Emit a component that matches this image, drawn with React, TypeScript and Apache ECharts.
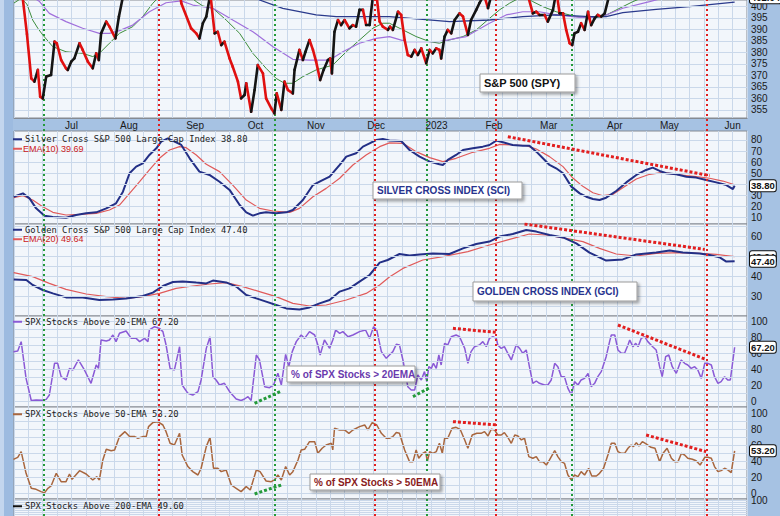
import React, { useEffect, useRef } from 'react';
import * as echarts from 'echarts';

// ---------- categories / ticks (x = trading days counted from 1 Jul 2022) ----------
const monthDays = [0, 20, 43, 64, 85, 106, 127, 147, 166, 189, 208, 230];
const monthNames = ['Jul', 'Aug', 'Sep', 'Oct', 'Nov', 'Dec', '2023', 'Feb', 'Mar', 'Apr', 'May', 'Jun'];
const greenEvents = [-9.7, 70.6, 123.5, 174.0];
const redEvents = [30.3, 105.4, 147.5, 220.9];

const spyTicks = [355, 360, 365, 370, 375, 380, 385, 390, 395, 400];
const sciTicks = [10, 20, 30, 50, 60, 70, 80];
const gciTicks = [30, 40, 60];
const pctTicks = [0, 20, 40, 60, 80, 100];
const pct200Ticks = [100];
const spyGridVals = [355, 360, 365, 370, 375, 380, 385, 390, 395, 400];
const sciGridVals = [10, 20, 30, 40, 50, 60, 70, 80];
const gciGridVals = [25, 30, 35, 40, 45, 50, 55, 60, 65];
const pctGridVals = [0, 10, 20, 30, 40, 50, 60, 70, 80, 90, 100];

// ---------- series values [tradingDay, value] ----------
const spyPrice = [
  [-20, 409], [-18, 406], [-17, 404], [-15.5, 388], [-14.0, 368.7], [-12.9, 367.3], [-11.7, 372.4], [-10.9, 360.8],
  [-10.0, 360.0], [-8.8, 369.5], [-7.1, 370.2], [-5.9, 384.7], [-5.1, 384.0], [-3.6, 376.7], [-1.9, 373.1], [-1.3, 372.4],
  [-0.1, 376.0], [1.0, 377.4], [2.8, 384.0], [3.9, 381.1], [5.7, 376.0], [7.4, 373.1], [8.6, 379.6], [9.5, 376.7],
  [10.3, 388.3], [12.1, 393.4], [13.2, 391.2], [15.3, 386.1], [16.5, 395.6], [18.5, 408], [24, 412], [31, 427],
  [36, 412], [37, 413], [38.2, 401.4], [41.6, 390.5], [43.4, 388.3], [44.5, 386.1], [45.7, 392.7], [46.9, 395.6],
  [48.3, 405.5], [49.8, 388.3], [50.9, 389.0], [52.1, 383.2], [53.2, 384.7], [55.0, 377.4], [56.1, 373.8], [57.9, 367.3],
  [59.0, 360.0], [60.2, 361.5], [60.8, 366.6], [62.5, 354.2], [63.7, 363.7], [64.8, 374.5], [66.6, 370.9], [67.7, 360.0],
  [69.5, 355.7], [70.6, 353.5], [71.4, 362.2], [73.0, 355.0], [74.1, 367.3], [75.3, 363.7], [77.0, 362.2], [77.6, 372.4],
  [79.3, 381.1], [80.5, 376.7], [81.4, 380.3], [82.8, 385.4], [84.0, 381.1], [85.1, 376.0], [86.5, 368.0], [87.7, 372.4],
  [89.2, 376.7], [90.0, 377.4], [90.6, 370.9], [91.5, 389.0], [92.7, 394.1], [93.8, 391.9], [95.0, 394.1], [96.7, 390.5],
  [97.9, 391.9], [99.0, 391.2], [100.2, 398.5], [101.4, 398.5], [102.5, 391.9], [103.7, 391.9], [105.0, 406], [106.0, 406],
  [107.2, 393.4], [108.3, 391.2], [110.1, 389.8], [110.8, 391.2], [111.8, 389.8], [113.6, 397.7], [114.7, 396.3], [115.9, 385.4],
  [117.0, 378.9], [118.2, 378.2], [119.4, 381.1], [120.5, 378.9], [121.7, 381.8], [123.4, 375.3], [124.6, 381.1], [125.7, 379.6],
  [126.9, 381.8], [128.0, 381.1], [128.6, 377.4], [129.8, 386.9], [130.9, 389.8], [132.1, 388.3], [133.3, 394.1], [135.0, 397.0],
  [136.2, 395.6], [137.9, 387.6], [139.0, 394.1], [140.8, 398.5], [141.9, 401.4], [143.5, 405], [144.9, 399.3], [146.3, 406],
  [148.0, 416], [151, 411], [155, 410], [158.5, 406], [160.5, 397.0], [161.7, 397.7], [162.8, 396.3], [164.6, 396.3],
  [165.7, 393.4], [167.5, 398.5], [168.3, 404], [169.0, 404], [169.8, 397.0], [171.0, 397.0], [172.1, 389.8], [173.3, 384.0],
  [174.2, 383.2], [175.0, 388.3], [176.2, 389.0], [177.3, 392.7], [178.5, 389.8], [179.7, 397.7], [180.2, 394.8], [180.8, 391.9],
  [182.0, 394.8], [183.1, 396.3], [184.3, 395.6], [185.5, 397.0], [187.5, 407], [200, 412], [215, 415], [230.7, 420],
];
const spyMa20 = [
  [-20, 401.5], [-17.5, 403.5], [-15.5, 401], [-13.5, 394.1], [-11.7, 390.5], [-10.0, 387.6], [-6.5, 382.5], [-1.9, 380.3],
  [3.9, 379.6], [7.4, 378.2], [9.7, 379.6], [13.2, 384.0], [16.7, 388.3], [21.3, 391.2], [24.8, 395.6], [28.3, 401.4],
  [32, 406], [37, 409], [40.5, 405], [43.4, 402.1], [45.7, 400.2], [49.2, 399.2], [53.8, 394.1], [58.5, 388.3],
  [63.1, 379.6], [67.7, 373.1], [71.2, 368.7], [74.1, 366.6], [77.0, 366.6], [80.5, 369.5], [85.1, 372.4], [90.9, 374.5],
  [95.6, 380.3], [100.2, 385.4], [104.8, 390.5], [108.3, 392.7], [110.6, 392.7], [115.3, 389.8], [119.9, 386.9], [124.6, 384.7],
  [128.0, 384.0], [131.5, 385.4], [136.2, 386.9], [140.8, 389.8], [145.4, 394.8], [148.9, 398.5], [152.4, 401.4], [156, 403.8],
  [158.5, 403.6], [160.5, 402.1], [164.0, 399.9], [168.6, 397.7], [173.3, 396.3], [175.6, 395.6], [180.2, 394.8], [184.9, 395.6],
  [187.2, 397.0], [191.8, 399.9], [195.3, 402.1], [202, 405.5], [215, 409], [230.7, 413],
];
const spyMa50 = [
  [-20, 408], [-14, 404.5], [-11.1, 402.1], [-7.7, 397.0], [-1.9, 393.4], [3.9, 390.5], [9.7, 388.3], [13.2, 388.3],
  [16.7, 389.5], [21.3, 391.9], [27.1, 397.7], [32.9, 401.6], [38.2, 402.4], [42.2, 400.6], [49.2, 399.2], [56.1, 394.1],
  [63.1, 389.0], [70.1, 382.5], [77.0, 377.0], [82.8, 376.7], [89.8, 376.7], [94.4, 380.3], [100.2, 384.0], [106.0, 386.1],
  [110.6, 386.9], [116.5, 384.7], [122.2, 384.7], [128.0, 384.7], [133.8, 386.1], [137.3, 386.9], [145.4, 392.7], [151.2, 396.3],
  [157.0, 397.7], [162.8, 397.7], [168.6, 396.3], [174.4, 395.6], [180.2, 394.8], [186.0, 396.3], [191.8, 399.2], [201.1, 402.1],
  [210, 405], [230.7, 410],
];
const spyMa200 = [
  [-20, 432], [40, 416], [65.4, 402.8], [73.5, 399.2], [85.1, 396.3], [92.1, 395.6], [110.6, 395.6], [122.2, 394.4],
  [131.5, 393.4], [145.4, 394.1], [157.0, 395.6], [168.6, 396.3], [180.2, 395.6], [186.0, 395.6], [191.8, 397.3], [203.4, 398.7],
  [215.0, 399.9], [230.7, 401.9],
];

const sci = [
  [-20.1, 28.9], [-16.9, 31.9], [-14.6, 27.4], [-12.3, 18.4], [-9.4, 11.8], [-6.5, 10.6], [-1.9, 10.0], [1.6, 12.4],
  [5.1, 13.9], [8.6, 14.8], [12.1, 18.4], [15.5, 22.9], [17.9, 33.4], [20.2, 50.0], [22.5, 56.0], [24.8, 59.0],
  [27.1, 66.5], [29.5, 72.5], [31.2, 78.5], [33.5, 81.5], [36.4, 77.9], [38.2, 75.5], [41.1, 63.5], [44.5, 51.5],
  [48.0, 48.5], [51.5, 42.4], [55.0, 35.0], [58.5, 21.4], [60.8, 14.8], [63.1, 11.8], [65.4, 13.9], [67.7, 14.8],
  [71.2, 13.9], [74.7, 14.8], [77.0, 16.9], [80.5, 25.9], [84.0, 39.4], [86.3, 42.4], [89.8, 46.9], [93.3, 57.5],
  [95.6, 65.0], [99.0, 68.0], [101.4, 74.0], [103.7, 77.0], [106.0, 80.0], [108.3, 80.9], [110.6, 79.5], [114.7, 79.1],
  [117.6, 71.0], [121.1, 65.0], [124.6, 60.5], [128.0, 58.1], [129.2, 57.5], [130.9, 62.0], [133.8, 66.5], [136.2, 71.0],
  [139.6, 72.5], [143.1, 74.0], [145.4, 75.5], [147.8, 79.4], [150.1, 77.9], [153.5, 75.5], [157.0, 74.9], [159.3, 74.9],
  [161.7, 69.5], [164.0, 63.5], [166.3, 57.5], [168.6, 54.5], [171.0, 50.0], [173.9, 38.0], [176.8, 31.9], [179.1, 28.9],
  [181.4, 26.8], [183.7, 25.9], [186.0, 28.0], [189.5, 34.0], [193.0, 41.8], [196.5, 48.5], [199.9, 53.0], [202.2, 55.1],
  [204.6, 52.1], [206.9, 50.0], [210.4, 49.1], [213.9, 46.9], [217.3, 46.1], [220.8, 44.0], [224.3, 41.8], [227.8, 39.4],
  [230.1, 35.8], [230.7, 38.8],
];
const sciEma10 = [
  [-20.1, 28.0], [-16.9, 29.8], [-13.5, 25.9], [-10.0, 19.9], [-6.5, 14.8], [-1.9, 12.4], [2.8, 13.0], [8.6, 13.9],
  [13.2, 16.9], [16.7, 21.4], [20.2, 31.9], [23.7, 42.4], [27.1, 53.0], [30.6, 63.5], [34.1, 71.0], [37.6, 74.0],
  [39.9, 73.1], [43.4, 66.5], [46.9, 58.1], [51.5, 51.5], [56.1, 39.4], [60.8, 25.9], [65.4, 18.4], [70.1, 16.0],
  [75.9, 14.8], [79.3, 18.4], [84.0, 28.9], [88.6, 36.4], [93.3, 45.5], [97.9, 57.5], [102.5, 66.5], [107.2, 74.0],
  [110.6, 77.4], [115.3, 77.0], [119.9, 69.5], [124.6, 64.1], [129.2, 60.5], [133.8, 63.5], [139.6, 68.9], [145.4, 72.5],
  [149.0, 76.1], [153.5, 75.5], [158.2, 74.9], [161.7, 71.9], [166.3, 65.0], [171.0, 56.0], [174.5, 45.5], [178.0, 38.0],
  [181.4, 32.5], [184.9, 29.8], [188.4, 31.0], [191.8, 37.0], [196.5, 44.8], [201.1, 49.1], [205.8, 50.9], [211.5, 48.5],
  [217.3, 47.0], [222.0, 45.5], [226.6, 43.0], [230.7, 39.7],
];
const sciTrend = [[151.8, 83.0], [222.0, 47.9]];

const gci = [
  [-20.1, 38.3], [-15.7, 38.0], [-13.5, 35.5], [-10.0, 33.0], [-6.5, 31.3], [-1.9, 29.3], [3.9, 29.3], [9.7, 28.0],
  [14.4, 28.3], [19.0, 28.7], [24.8, 30.0], [28.3, 31.7], [31.8, 35.0], [35.3, 37.0], [38.7, 37.3], [43.4, 36.7],
  [46.9, 36.3], [49.2, 37.7], [53.8, 36.8], [57.3, 34.7], [60.8, 30.5], [64.3, 28.8], [67.7, 27.2], [71.2, 25.5],
  [74.7, 23.8], [79.3, 23.3], [82.8, 24.3], [86.3, 26.3], [89.8, 28.0], [93.3, 32.2], [96.7, 33.8], [100.2, 37.2],
  [103.7, 40.5], [107.2, 46.7], [110.0, 48.0], [114.1, 51.0], [117.6, 50.2], [121.1, 50.8], [125.7, 51.3], [131.5, 51.0],
  [136.2, 53.8], [140.8, 56.0], [145.4, 57.2], [148.9, 59.7], [153.5, 61.0], [158.2, 63.0], [161.7, 62.2], [166.3, 60.5],
  [171.0, 59.3], [175.6, 56.3], [180.2, 51.7], [186.0, 47.7], [191.8, 48.3], [196.5, 50.8], [203.4, 51.7], [208.1, 52.7],
  [212.7, 51.7], [218.5, 51.3], [222.0, 50.5], [225.5, 49.3], [227.8, 47.2], [230.7, 47.4],
];
const gciEma20 = [
  [-20.1, 41.7], [-13.5, 39.7], [-7.7, 36.3], [-1.9, 33.3], [5.1, 31.0], [12.1, 29.7], [19.0, 28.8], [24.8, 29.7],
  [30.6, 31.3], [36.4, 33.8], [42.2, 35.0], [48.0, 36.0], [53.8, 36.7], [59.6, 34.7], [65.4, 32.2], [71.2, 29.7],
  [77.0, 26.3], [82.8, 25.0], [88.6, 25.5], [95.6, 28.0], [102.5, 31.3], [107.2, 35.5], [110.6, 39.5], [115.3, 43.8],
  [122.2, 48.0], [129.2, 49.7], [137.9, 52.2], [145.4, 55.5], [152.4, 58.3], [159.3, 61.0], [165.2, 60.5], [172.1, 58.8],
  [177.9, 57.2], [183.7, 53.8], [189.5, 51.0], [196.5, 50.0], [203.4, 51.3], [211.5, 51.7], [218.5, 51.3], [224.3, 50.8],
  [230.7, 49.64],
];
const gciTrend = [[157.6, 66.0], [220.3, 53.3]];

const pct20 = [
  [-20.2, 61.7], [-18.7, 62.5], [-17.5, 74.2], [-15.8, 28.3], [-14.0, 0.6], [-12.3, 1.2], [-10.0, 0.8], [-8.8, 2.0],
  [-7.7, 7.5], [-5.9, 47.1], [-4.8, 47.1], [-3.6, 30.4], [-1.9, 26.3], [-0.7, 40.8], [0.5, 38.8], [2.4, 51.3],
  [4.5, 38.8], [6.8, 22.1], [8.6, 45.0], [9.4, 40.8], [10.3, 76.3], [12.1, 75.0], [13.2, 76.3], [14.4, 82.5],
  [15.5, 74.2], [16.7, 84.6], [19.0, 87.5], [20.8, 78.3], [22.5, 78.3], [23.7, 74.2], [25.4, 78.3], [26.6, 74.2],
  [27.1, 88.8], [28.9, 92.9], [30.6, 90.8], [31.8, 86.7], [32.9, 70.0], [34.3, 40.8], [35.8, 38.8], [37.6, 67.9],
  [38.5, 20.0], [40.5, 9.6], [42.2, 7.5], [44.0, 11.7], [45.1, 26.3], [46.9, 65.8], [48.2, 80.4], [49.2, 30.4],
  [50.3, 26.3], [51.5, 20.0], [53.2, 22.1], [55.0, 11.7], [57.3, 2.5], [59.0, 0.6], [60.2, 2.5], [61.4, 5.4],
  [62.5, 0.6], [64.3, 57.5], [65.4, 51.3], [67.2, 17.9], [68.9, 16.7], [70.3, 20.0], [71.8, 34.6], [73.0, 20.0],
  [74.5, 58.3], [75.6, 42.9], [76.8, 61.7], [78.2, 74.2], [79.9, 82.5], [81.1, 78.3], [82.8, 86.7], [84.6, 82.5],
  [85.7, 70.0], [86.5, 57.5], [88.0, 76.3], [89.8, 65.8], [90.9, 76.3], [91.9, 88.8], [93.3, 84.6], [94.4, 86.7],
  [96.2, 80.4], [97.9, 82.5], [100.2, 86.7], [102.3, 88.8], [103.7, 78.3], [105.1, 92.9], [106.2, 88.8], [107.8, 61.7],
  [109.5, 53.3], [110.6, 57.5], [111.8, 61.7], [113.0, 70.8], [114.1, 70.0], [115.3, 51.3], [117.0, 17.9], [118.2, 13.8],
  [119.4, 13.8], [120.5, 32.5], [121.7, 26.3], [122.8, 36.7], [123.6, 24.2], [124.3, 42.9], [125.2, 40.8], [125.9, 47.1],
  [126.9, 40.8], [127.8, 57.5], [128.6, 45.0], [129.8, 72.1], [130.9, 70.0], [132.1, 80.4], [133.8, 82.5], [135.0, 80.4],
  [136.8, 65.8], [137.9, 47.1], [139.0, 61.7], [140.2, 67.9], [141.9, 70.0], [143.1, 74.2], [144.3, 67.9], [145.4, 78.3],
  [146.6, 80.4], [147.8, 78.3], [148.3, 70.0], [149.5, 65.8], [150.6, 67.9], [151.8, 59.6], [153.0, 51.3], [154.7, 70.0],
  [155.9, 65.8], [157.0, 59.6], [158.2, 63.8], [159.3, 42.9], [160.5, 22.1], [161.7, 25.0], [162.8, 22.1], [164.6, 20.0],
  [165.7, 20.0], [166.9, 26.3], [168.1, 47.1], [169.2, 42.9], [170.4, 30.4], [171.5, 30.4], [172.7, 15.8], [173.9, 7.5],
  [175.0, 24.2], [176.2, 20.0], [177.3, 26.3], [178.5, 28.3], [179.7, 34.6], [180.8, 17.9], [182.0, 22.1], [183.1, 30.4],
  [184.3, 36.7], [186.0, 55.4], [187.2, 74.2], [187.8, 82.5], [189.0, 82.5], [190.1, 63.8], [191.3, 59.6], [192.4, 59.6],
  [193.6, 70.0], [194.2, 76.3], [195.3, 67.9], [196.3, 72.1], [197.1, 67.9], [198.2, 78.3], [199.4, 80.4], [200.5, 74.2],
  [202.2, 67.9], [203.4, 63.8], [204.6, 42.9], [205.5, 30.4], [206.7, 55.4], [207.8, 57.5], [209.0, 42.9], [210.4, 34.6],
  [212.1, 51.3], [213.3, 47.1], [214.4, 45.0], [215.6, 40.8], [216.8, 42.9], [217.9, 38.8], [219.1, 28.3], [220.3, 47.1],
  [221.4, 47.1], [222.6, 45.0], [223.7, 30.4], [224.9, 22.1], [226.0, 24.2], [227.2, 30.4], [228.3, 26.3], [229.2, 26.3],
  [230.7, 67.2],
];
const pct20GreenA = [[63.7, -2.9], [73.0, 12.5]];
const pct20GreenB = [[118.8, 5.4], [124.6, 16.7]];
const pct20RedA = [[132.7, 90.8], [147.8, 85.8]];
const pct20RedB = [[190.1, 95.0], [220.3, 52.5]];

const pct50 = [
  [-20.2, 42.5], [-18.7, 45.0], [-17.5, 52.1], [-15.8, 25.0], [-14.0, 6.3], [-12.3, 5.0], [-10.6, 2.1], [-9.4, 0.6],
  [-8.2, 6.3], [-7.1, 9.2], [-5.3, 25.0], [-3.6, 14.6], [-1.9, 14.6], [-0.7, 24.2], [0.2, 17.5], [2.8, 28.3],
  [5.1, 24.2], [7.4, 16.7], [8.8, 20.8], [9.7, 16.7], [10.9, 41.7], [12.1, 55.0], [13.8, 53.3], [15.0, 54.2],
  [16.7, 70.9], [18.6, 77.1], [20.2, 70.9], [22.0, 70.9], [23.1, 68.8], [24.8, 70.9], [26.0, 70.9], [26.8, 83.4],
  [28.3, 88.4], [30.0, 89.6], [31.8, 85.4], [32.9, 77.1], [34.3, 62.5], [35.8, 60.4], [37.6, 75.0], [38.5, 47.9],
  [40.5, 33.4], [42.2, 27.1], [44.0, 22.9], [45.1, 31.3], [46.9, 58.4], [48.2, 70.0], [49.4, 31.3], [50.9, 31.3],
  [52.1, 27.1], [53.8, 29.2], [55.6, 10.4], [57.3, 6.3], [59.0, 2.1], [60.8, 8.4], [62.2, 4.2], [64.3, 29.2],
  [65.6, 27.1], [67.7, 15.4], [69.5, 14.6], [70.6, 16.7], [71.8, 22.9], [73.0, 16.7], [74.5, 33.4], [75.9, 22.9],
  [77.0, 27.1], [78.8, 41.7], [79.9, 54.2], [81.1, 55.0], [82.8, 64.6], [84.6, 64.6], [85.7, 50.0], [87.2, 56.3],
  [88.6, 60.4], [90.4, 62.5], [90.9, 54.2], [91.5, 81.3], [93.3, 79.2], [95.0, 79.2], [96.5, 75.0], [97.9, 79.2],
  [100.2, 83.4], [102.0, 85.4], [103.1, 79.2], [104.6, 88.4], [106.2, 85.4], [107.8, 75.0], [109.5, 68.8], [110.6, 68.8],
  [111.8, 70.9], [113.0, 75.9], [114.1, 75.0], [115.9, 54.2], [117.6, 39.6], [118.8, 39.6], [119.9, 54.2], [120.8, 43.8],
  [122.2, 50.0], [123.2, 52.1], [123.8, 39.6], [124.6, 52.1], [125.7, 50.0], [126.9, 52.1], [128.0, 62.5], [129.0, 50.0],
  [129.8, 68.8], [130.9, 68.8], [132.4, 81.3], [133.8, 82.5], [135.2, 80.0], [136.8, 66.7], [137.9, 56.3], [139.4, 72.9],
  [141.0, 75.0], [142.5, 75.0], [143.7, 77.1], [144.9, 71.7], [146.0, 80.0], [147.2, 79.2], [148.3, 72.9], [149.5, 72.9],
  [150.6, 75.9], [151.8, 70.0], [153.0, 62.5], [154.2, 72.9], [155.3, 71.7], [156.5, 66.7], [157.6, 68.8], [159.1, 45.9],
  [160.5, 43.8], [161.7, 45.9], [162.8, 39.6], [164.0, 39.6], [165.2, 35.4], [166.3, 41.7], [168.1, 53.4], [169.2, 45.9],
  [170.4, 39.6], [171.5, 37.5], [172.7, 22.9], [173.9, 16.7], [175.0, 22.9], [176.2, 20.8], [177.3, 27.1], [178.5, 22.9],
  [179.9, 31.3], [181.0, 21.7], [182.6, 21.7], [183.7, 25.0], [185.1, 31.3], [186.6, 47.9], [187.8, 62.5], [189.0, 62.5],
  [190.1, 52.1], [191.3, 50.0], [192.4, 50.0], [193.6, 56.3], [194.7, 60.4], [195.5, 58.4], [196.5, 63.4], [197.4, 59.2],
  [198.6, 64.6], [199.9, 61.7], [201.6, 57.5], [203.0, 56.3], [204.6, 39.6], [205.8, 50.0], [207.2, 56.3], [208.7, 43.8],
  [209.9, 39.6], [211.0, 39.6], [212.2, 50.0], [213.3, 47.9], [214.4, 43.8], [216.0, 42.5], [217.3, 40.8], [218.7, 35.4],
  [220.3, 45.0], [221.4, 45.0], [222.6, 43.8], [223.7, 33.4], [224.9, 27.1], [226.0, 28.4], [227.2, 31.3], [228.3, 29.2],
  [229.5, 25.9], [230.7, 53.2],
];
const pct50GreenA = [[63.7, -0.8], [73.0, 10.4]];
const pct50RedA = [[132.7, 89.6], [148.3, 85.4]];
const pct50RedB = [[199.9, 72.9], [220.8, 52.1]];

const sciName = 'Silver Cross S&P 500 Large Cap Index 38.80';
const sciEmaName = 'EMA(10) 39.69';
const gciName = 'Golden Cross S&P 500 Large Cap Index 47.40';
const gciEmaName = 'EMA(20) 49.64';
const pct20Name = 'SPX Stocks Above 20-EMA 67.20';
const pct50Name = 'SPX Stocks Above 50-EMA 53.20';
const pct200Name = 'SPX Stocks Above 200-EMA 49.60';

// value boxes on the right axis
const spyBoxes = [{ v: 402.04, t: '402.04' }];
const sciBoxes = [{ v: 38.8, t: '38.80' }];
const gciBoxes = [{ v: 49.64, t: '49.64' }, { v: 47.4, t: '47.40' }];
const pct20Boxes = [{ v: 67.2, t: '67.20' }];
const pct50Boxes = [{ v: 53.2, t: '53.20' }];

// ---------- layout ----------
const panels = [
  { top: 0, height: 118, min: 351.5, max: 402.8, ticks: spyTicks, grid: spyGridVals, boxes: spyBoxes, boxShift: -4 },
  { top: 131, height: 93, min: 4.3, max: 88.1, ticks: sciTicks, grid: sciGridVals, boxes: sciBoxes, boxShift: 0 },
  { top: 224, height: 92, min: 20, max: 66, ticks: gciTicks, grid: gciGridVals, boxes: gciBoxes, boxShift: 0 },
  { top: 316, height: 91, min: -7.5, max: 106.25, ticks: pctTicks, grid: pctGridVals, boxes: pct20Boxes, boxShift: 0 },
  { top: 407, height: 92, min: -7.1, max: 107.9, ticks: pctTicks, grid: pctGridVals, boxes: pct50Boxes, boxShift: 0 },
  { top: 499, height: 92, min: -8.75, max: 106.25, ticks: pct200Ticks, grid: pctGridVals, boxes: [] as { v: number; t: string }[], boxShift: 0 },
];

const FONT = 'Liberation Sans';
const LEG_FONT = 'DejaVu Sans Mono';
const RED = '#e21f1f';
const GREEN = '#249a3a';
const NAVY = '#232f86';

function lineSeries(name: string | undefined, idx: number, data: number[][], color: string, width: number, z = 3, dash?: number[]) {
  return {
    type: 'line',
    name,
    xAxisIndex: idx,
    yAxisIndex: idx,
    data,
    color,
    symbol: 'none',
    showSymbol: false,
    clip: true,
    z,
    silent: true,
    lineStyle: { color, width, type: dash || 'solid', cap: 'butt' },
  };
}

function legendCfg(top: number, items: { name: string; color: string; mono: boolean }[]) {
  return {
    top,
    left: 13,
    z: 30,
    orient: 'vertical',
    itemGap: 0,
    itemWidth: 9,
    itemHeight: 2,
    icon: 'rect',
    padding: 0,
    selectedMode: false,
    textStyle: { fontSize: 8.8, fontFamily: LEG_FONT, color: '#222', lineHeight: 9.5, padding: [0, 0, 0, -2] },
    data: items.map((it) => ({
      name: it.name,
      textStyle: it.mono
        ? { color: it.color, fontFamily: LEG_FONT, fontSize: 8.8 }
        : { color: it.color, fontFamily: FONT, fontSize: 9, padding: [0, 0, 0, -4] },
    })),
  };
}

function annot(x: number, y: number, w: number, h: number, text: string, color: string, size: number) {
  return {
    type: 'group',
    z: 100,
    children: [
      {
        type: 'rect',
        z: 100,
        shape: { x, y, width: w, height: h },
        style: { fill: '#ffffff', stroke: '#9a9a9a', lineWidth: 1, shadowBlur: 3, shadowOffsetX: 2, shadowOffsetY: 2, shadowColor: 'rgba(0,0,0,0.35)' },
      },
      {
        type: 'text',
        z: 101,
        style: { text, x: x + 4, y: y + h / 2, fill: color, fontSize: size, fontWeight: 'bold', fontFamily: FONT, verticalAlign: 'middle', align: 'left' },
      },
    ],
  };
}

function buildOption() {
  const grids: any[] = panels.map((p) => ({
    left: 14,
    right: 33,
    top: p.top,
    height: p.height,
    show: true,
    backgroundColor: '#f2f6fb',
    borderColor: '#858a92',
    borderWidth: 1,
  }));
  grids.push({ left: 14, right: 33, top: 0, height: 516, show: false });

  const xAxes: any[] = grids.map((_, i) => ({
    type: 'value',
    gridIndex: i,
    min: -20,
    max: 235,
    interval: 5,
    axisLine: { show: i === 0, lineStyle: { color: '#858a92' } },
    axisTick: { show: false },
    axisLabel:
      i === 0
        ? {
            show: true,
            customValues: monthDays,
            formatter: (v: number) => {
              const k = monthDays.indexOf(v);
              return k >= 0 ? monthNames[k] : '';
            },
            fontSize: 10,
            color: '#1a1a1a',
            margin: 2,
            fontFamily: FONT,
          }
        : { show: false },
    splitLine: { show: i < 6, lineStyle: { color: '#cad8ea', width: 1 } },
  }));

  const yAxes: any[] = panels.map((p, i) => ({
    type: 'value',
    gridIndex: i,
    position: 'right',
    min: p.min,
    max: p.max,
    axisLine: { show: false },
    axisTick: { show: true, customValues: p.ticks, length: 3, lineStyle: { color: '#333' } },
    axisLabel: { show: true, customValues: p.ticks, fontSize: 10, color: '#1a1a1a', margin: 4, fontFamily: FONT },
    splitLine: { show: false },
  }));
  yAxes.push({ type: 'value', gridIndex: 6, min: 0, max: 1, show: false });

  const series: any[] = [];
  // horizontal grid lines
  panels.forEach((p, i) => {
    series.push({
      type: 'line',
      xAxisIndex: i,
      yAxisIndex: i,
      data: [],
      symbol: 'none',
      z: 1,
      silent: true,
      markLine: {
        silent: true,
        symbol: ['none', 'none'],
        label: { show: false },
        lineStyle: { color: '#cad8ea', type: 'solid', width: 1 },
        emphasis: { disabled: true },
        data: p.grid.map((v) => ({ yAxis: v })),
      },
    });
  });

  // SPY price: black when rising, red when falling
  series.push({
    type: 'custom',
    xAxisIndex: 0,
    yAxisIndex: 0,
    clip: true,
    silent: true,
    z: 5,
    data: spyPrice,
    encode: { x: 0, y: 1 },
    renderItem: (params: any, api: any) => {
      const i = params.dataIndex;
      if (i === 0) return null;
      const prev = spyPrice[i - 1];
      const p0 = api.coord(prev);
      const p1 = api.coord([api.value(0), api.value(1)]);
      const up = api.value(1) >= prev[1];
      return {
        type: 'line',
        shape: { x1: p0[0], y1: p0[1], x2: p1[0], y2: p1[1] },
        style: { stroke: up ? '#141414' : '#e01010', lineWidth: 2.6, lineCap: 'round' },
      };
    },
  });
  series.push(lineSeries(undefined, 0, spyMa20, '#3c8c3c', 1, 4));
  series.push(lineSeries(undefined, 0, spyMa50, '#a070dc', 1.2, 4));
  series.push(lineSeries(undefined, 0, spyMa200, '#2a3a8c', 1.3, 4));

  series.push(lineSeries(sciEmaName, 1, sciEma10, '#e05a5a', 1.2, 3));
  series.push(lineSeries(sciName, 1, sci, NAVY, 2, 4));
  series.push(lineSeries(undefined, 1, sciTrend, RED, 3, 6, [3, 2]));

  series.push(lineSeries(gciEmaName, 2, gciEma20, '#e05a5a', 1.2, 3));
  series.push(lineSeries(gciName, 2, gci, NAVY, 2, 4));
  series.push(lineSeries(undefined, 2, gciTrend, RED, 3, 6, [3, 2]));

  series.push(lineSeries(pct20Name, 3, pct20, '#8a5ad6', 1.5, 4));
  series.push(lineSeries(undefined, 3, pct20GreenA, GREEN, 3, 6, [3, 2]));
  series.push(lineSeries(undefined, 3, pct20GreenB, GREEN, 3, 6, [3, 2]));
  series.push(lineSeries(undefined, 3, pct20RedA, RED, 3, 6, [3, 2]));
  series.push(lineSeries(undefined, 3, pct20RedB, RED, 3, 6, [3, 2]));

  series.push(lineSeries(pct50Name, 4, pct50, '#a8663e', 1.5, 4));
  series.push(lineSeries(undefined, 4, pct50GreenA, GREEN, 3, 6, [3, 2]));
  series.push(lineSeries(undefined, 4, pct50RedA, RED, 3, 6, [3, 2]));
  series.push(lineSeries(undefined, 4, pct50RedB, RED, 3, 6, [3, 2]));

  series.push(lineSeries(pct200Name, 5, [], '#111111', 1.5, 4));

  // right-axis value boxes
  panels.forEach((p, i) => {
    if (!p.boxes.length) return;
    series.push({
      type: 'line',
      xAxisIndex: i,
      yAxisIndex: i,
      data: [],
      symbol: 'none',
      z: 20,
      silent: true,
      markLine: {
        silent: true,
        symbol: ['none', 'none'],
        lineStyle: { color: 'rgba(0,0,0,0)', width: 1, opacity: 1 },
        emphasis: { disabled: true },
        label: {
          show: true,
          position: 'end',
          distance: 3,
          opacity: 1,
          offset: [0, p.boxShift],
          backgroundColor: '#ffffff',
          borderColor: '#111',
          borderWidth: 1,
          borderRadius: 2,
          padding: [1, 1, 0, 1],
          fontSize: 9.5,
          fontWeight: 'bold',
          color: '#111',
          fontFamily: FONT,
        },
        data: p.boxes.map((b) => ({ yAxis: b.v, label: { formatter: b.t } })),
      },
    });
  });

  // event lines through all panels
  series.push({
    type: 'line',
    xAxisIndex: 6,
    yAxisIndex: 6,
    data: [],
    symbol: 'none',
    z: 3,
    silent: true,
    markLine: {
      silent: true,
      symbol: ['none', 'none'],
      label: { show: false },
      emphasis: { disabled: true },
      data: [
        ...greenEvents.map((d) => ({ xAxis: d, lineStyle: { color: GREEN, type: [2, 3], width: 2 } })),
        ...redEvents.map((d) => ({ xAxis: d, lineStyle: { color: RED, type: [2, 3], width: 2 } })),
      ],
    },
  });

  return {
    animation: false,
    backgroundColor: '#a6c2e3',
    textStyle: { fontFamily: FONT },
    grid: grids,
    xAxis: xAxes,
    yAxis: yAxes,
    legend: [
      legendCfg(134.5, [{ name: sciName, color: '#222', mono: true }, { name: sciEmaName, color: '#cc2020', mono: false }]),
      legendCfg(225, [{ name: gciName, color: '#222', mono: true }, { name: gciEmaName, color: '#cc2020', mono: false }]),
      legendCfg(317, [{ name: pct20Name, color: '#222', mono: true }]),
      legendCfg(409.5, [{ name: pct50Name, color: '#222', mono: true }]),
      legendCfg(501.5, [{ name: pct200Name, color: '#222', mono: true }]),
    ],
    graphic: [
      { type: 'rect', shape: { x: 0, y: 0, width: 13, height: 516 }, style: { fill: '#9dbbe0' }, z: 0 },
      { type: 'rect', shape: { x: 0, y: 0, width: 4, height: 516 }, style: { fill: '#c3d6ee' }, z: 0 },
      annot(480, 74, 95, 18, 'S&P 500 (SPY)', '#111111', 11),
      annot(373, 182, 149, 17, 'SILVER CROSS INDEX (SCI)', '#27338e', 10),
      annot(473, 282, 164, 19, 'GOLDEN CROSS INDEX (GCI)', '#27338e', 10),
      annot(287, 366, 128, 16, '% of SPX Stocks > 20EMA', '#6a3aad', 10),
      annot(310, 474, 130, 16, '% of SPX Stocks > 50EMA', '#8a1c1c', 10),
    ],
    series,
  };
}

export default function App() {
  const ref = useRef<HTMLDivElement>(null);
  useEffect(() => {
    if (!ref.current) return;
    const chart = echarts.init(ref.current, undefined, { renderer: 'svg' });
    chart.setOption(buildOption() as any);
    return () => chart.dispose();
  }, []);
  return <div ref={ref} style={{ position: 'absolute', left: 0, top: 0, width: 780, height: 516 }} />;
}
